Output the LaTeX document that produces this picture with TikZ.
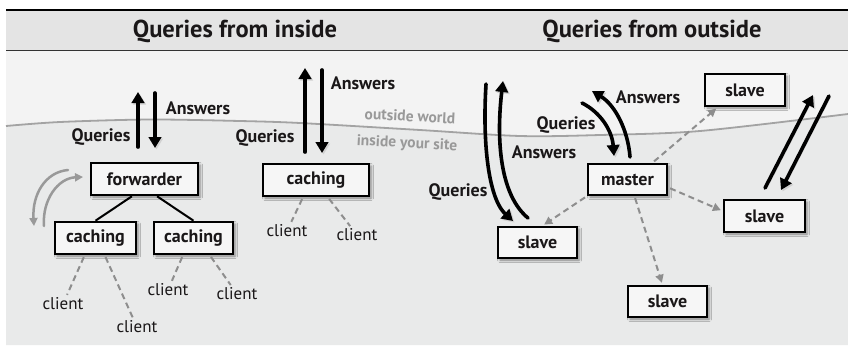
\documentclass[tikz,border=0pt]{standalone}
\usepackage{fontspec}
\setmainfont{PT Sans}
\usetikzlibrary{arrows.meta,shadows.blur,calc}
\definecolor{hdr}{HTML}{E4E4E4}
\definecolor{bgtop}{HTML}{F3F3F3}
\definecolor{bgbot}{HTML}{E9EAEA}
\definecolor{wavec}{HTML}{A3A3A3}
\definecolor{dashc}{HTML}{8E8E8E}
\definecolor{boxfill}{HTML}{F6F6F6}
\definecolor{txt}{HTML}{1A1718}
\begin{document}
\begin{tikzpicture}[x=1pt,y=-1pt,
 box/.style={draw=black, line width=2.6pt, fill=boxfill, inner sep=0pt, font=\bfseries\fontsize{18}{20}\selectfont, text=txt, blur shadow={shadow xshift=2pt, shadow yshift=-2pt, shadow blur radius=2.5pt, shadow opacity=45}},
 lbl/.style={font=\bfseries\fontsize{18}{20}\selectfont, text=txt, inner sep=0pt},
 clientlbl/.style={font=\fontsize{17}{19}\selectfont, text=txt, inner sep=1pt},
 site/.style={font=\bfseries\fontsize{15.5}{17}\selectfont, text=black!40, inner sep=0pt, rotate=-3},
 ttl/.style={font=\bfseries\fontsize{24.5}{27}\selectfont, text=txt},
 bigarrow/.style={line width=3.6pt, line cap=round, -{Triangle[length=11pt,width=12.5pt]}, preaction={draw=black!18, transform canvas={shift={(1.5pt,-1.5pt)}}}},
 grayarrow/.style={draw=black!40, line width=2.5pt, line cap=round, -{Triangle[length=8pt,width=8pt]}},
 dsh/.style={draw=dashc, line width=2pt, dash pattern=on 6pt off 4pt, shorten <=2pt, shorten >=2pt},
 dsharrow/.style={dsh, -{Triangle[length=8pt,width=8pt]}},
 ]
\useasboundingbox (0,0) rectangle (848,346);
% background
\fill[bgtop] (6,50) rectangle (848,345);
\fill[bgbot] plot[smooth] coordinates {(6,126) (60,122) (150,119.5) (240,121) (300,123) (420,130) (520,136) (600,135) (700,131) (848,114)} -- (848,345) -- (6,345) -- cycle;
\draw[wavec, line width=1.8pt] plot[smooth] coordinates {(6,126) (60,122) (150,119.5) (240,121) (300,123) (420,130) (520,136) (600,135) (700,131) (848,114)};
\fill[hdr] (6,10) rectangle (848,50);
\draw[line width=2.2pt] (6,10) -- (848,10);
\draw[line width=1pt, black!80] (6,50) -- (848,50);
\node[ttl] (t1) at (235,31) {Queries from inside};
\node[ttl] (t2) at (652,31) {Queries from outside};
\node[site] (ow) at (410,116) {outside world};
\node[site] (iy) at (407,144) {inside your site};

% boxes
\node[box, minimum width=107pt, minimum height=32pt] (fwd) at (144.5,179) {forwarder};
\node[box, minimum width=81pt, minimum height=32pt] (cL) at (95.5,238) {caching};
\node[box, minimum width=79pt, minimum height=32pt] (cR) at (193.5,238) {caching};
\node[box, minimum width=106pt, minimum height=32pt] (cT) at (316,180) {caching};
\node[box, minimum width=79pt, minimum height=31pt] (master) at (627.5,179.5) {master};
\node[box, minimum width=79pt, minimum height=31pt] (sL) at (537.5,242.5) {slave};
\node[box, minimum width=80pt, minimum height=32pt] (sTR) at (745,90) {slave};
\node[box, minimum width=81pt, minimum height=32pt] (sR) at (764.5,216) {slave};
\node[box, minimum width=79pt, minimum height=31pt] (sB) at (667.5,301.5) {slave};

% tree
\draw[line width=2pt] ($(fwd.south west)!0.385!(fwd.south east)$) -- (cL.north);
\draw[line width=2pt] ($(fwd.south west)!0.615!(fwd.south east)$) -- (cR.north);

% clients
\node[clientlbl] (c1) at (63,304) {client};
\node[clientlbl] (c2) at (137,327) {client};
\node[clientlbl] (c3) at (168,290) {client};
\node[clientlbl] (c4) at (237,294) {client};
\node[clientlbl] (c5) at (287,231) {client};
\node[clientlbl] (c6) at (357,235) {client};
\draw[dsh] ($(cL.south west)!0.37!(cL.south east)$) -- (c1);
\draw[dsh] ($(cL.south west)!0.61!(cL.south east)$) -- (c2);
\draw[dsh] ($(cR.south west)!0.37!(cR.south east)$) -- (c3);
\draw[dsh] ($(cR.south west)!0.70!(cR.south east)$) -- (c4);
\draw[dsh] ($(cT.south west)!0.38!(cT.south east)$) -- (c5);
\draw[dsh] ($(cT.south west)!0.61!(cT.south east)$) -- (c6);

% master dashed arrows
\draw[dsharrow] (master.south west) -- ([xshift=5pt]sL.north);
\draw[dsharrow] ([xshift=25pt]master.north) -- ([xshift=14pt]sTR.south west);
\draw[dsharrow] ([yshift=-8pt]master.east) -- ([yshift=5pt]sR.west);
\draw[dsharrow] ([xshift=7pt]master.south) -- ([xshift=-5pt]sB.north);

% forwarder arrows
\coordinate (fq1) at (138,147); \coordinate (fq2) at (138,92);
\coordinate (fa1) at (155,93); \coordinate (fa2) at (155,148);
\draw[bigarrow] (fq1) -- (fq2);
\draw[bigarrow] (fa1) -- (fa2);
\node[lbl] (fqL) at (101,137) {Queries};
\node[lbl] (faL) at (198,108) {Answers};

% caching top arrows
\coordinate (tq1) at (305,152); \coordinate (tq2) at (305,68);
\coordinate (ta1) at (322,70); \coordinate (ta2) at (322,153);
\draw[bigarrow] (tq1) -- (tq2);
\draw[bigarrow] (ta1) -- (ta2);
\node[lbl] (tqL) at (265,138) {Queries};
\node[lbl] (taL) at (363,83) {Answers};

% gray loop arrows
\coordinate (g1) at (68,170); \coordinate (g2) at (34,226);
\coordinate (g3) at (44,226); \coordinate (g4) at (83,177);
\draw[grayarrow] (g1) .. controls (45,172) and (32,195) .. (g2);
\draw[grayarrow] (g3) .. controls (42,200) and (58,178) .. (g4);

% slave left pair
\coordinate (sq1) at (486,84); \coordinate (sq2) at (513,221);
\coordinate (sa1) at (528,218); \coordinate (sa2) at (503,81);
\draw[bigarrow] (sq1) .. controls (482,150) and (490,200) .. (sq2);
\draw[bigarrow] (sa1) .. controls (500,195) and (496,140) .. (sa2);
\node[lbl] (sqL) at (458,192) {Queries};
\node[lbl] (saL) at (544,152) {Answers};

% master pair
\coordinate (mq1) at (582,103); \coordinate (mq2) at (614,156);
\coordinate (ma1) at (630,157); \coordinate (ma2) at (592,91);
\draw[bigarrow] (mq1) .. controls (600,112) and (612,130) .. (mq2);
\draw[bigarrow] (ma1) .. controls (628,130) and (615,105) .. (ma2);
\node[lbl] (mqL) at (566,125) {Queries};
\node[lbl] (maL) at (648,97) {Answers};

% right pair
\coordinate (rq1) at (765,188); \coordinate (rq2) at (813,95);
\coordinate (ra1) at (829,96); \coordinate (ra2) at (781,190);
\draw[bigarrow] (rq1) -- (rq2);
\draw[bigarrow] (ra1) -- (ra2);
\end{tikzpicture}
\end{document}
